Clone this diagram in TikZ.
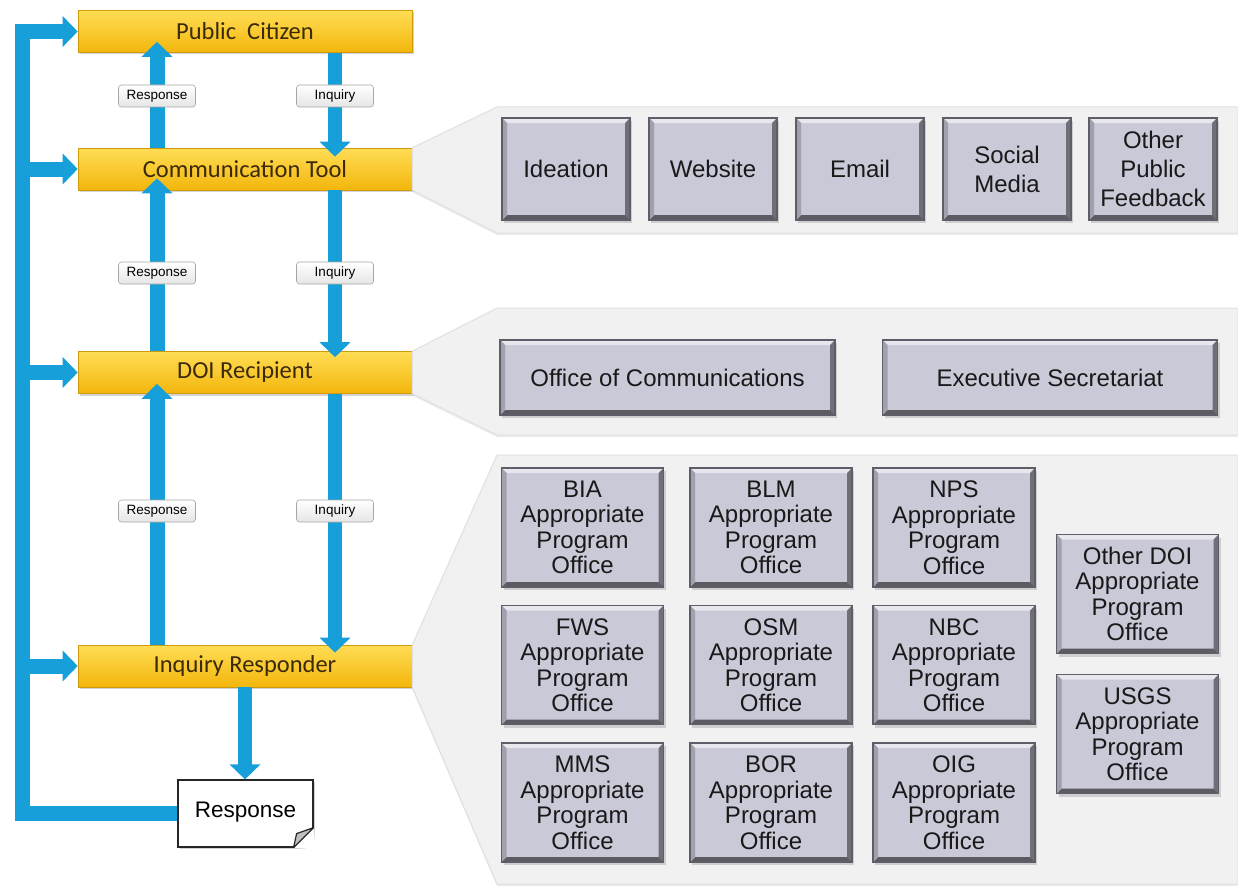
\documentclass[tikz,border=0pt]{standalone}
\usepackage{fontspec}
\setmainfont{Liberation Sans}
\newfontfamily\calibrifont{Carlito}
\usetikzlibrary{arrows.meta,calc,shadows}
\definecolor{flowblue}{HTML}{169FD9}
\definecolor{goldtop}{HTML}{FFDD55}
\definecolor{goldbot}{HTML}{F3B60C}
\definecolor{goldtext}{HTML}{3B2A0A}
\definecolor{boxfill}{HTML}{C9C9D8}
\definecolor{boxedge}{HTML}{5E5E68}
\definecolor{panelfill}{HTML}{F1F1F1}
\tikzset{
  stage/.style={minimum width=334pt, minimum height=42pt, inner sep=0pt,
    top color=goldtop, bottom color=goldbot, draw=goldbot!85!black, line width=0.6pt,
    drop shadow={opacity=0.35, shadow xshift=1.5pt, shadow yshift=-2pt},
    text=goldtext, font=\calibrifont\fontsize{24.5}{26}\selectfont},
  office/.style={inner sep=0pt, fill=boxfill, draw=boxedge, line width=1.2pt,
    drop shadow={opacity=0.3, shadow xshift=2pt, shadow yshift=-3pt},
    path picture={
      \coordinate (tl) at (path picture bounding box.north west);
      \coordinate (br) at (path picture bounding box.south east);
      \fill[white!55!boxfill] (tl) -- (tl -| br) -- ++(-5,5) -- ($(tl)+(5,5)$) -- cycle;
      \fill[boxfill!55!black] (tl -| br) -- (br) -- ++(-5,-5) -- ($(tl -| br)+(-5,5)$) -- cycle;
      \fill[boxfill!45!black] (br) -- (br -| tl) -- ++(5,-5) -- ($(br)+(-5,-5)$) -- cycle;
      \fill[boxfill!80!black] (br -| tl) -- (tl) -- ++(5,5) -- ($(br -| tl)+(5,-5)$) -- cycle;
    },
    align=center, text=black!90, font=\fontsize{24}{25.5}\selectfont},
  agency/.style={office, minimum width=162pt, minimum height=119pt},
  channel/.style={office, minimum width=128pt, minimum height=102pt,
    font=\fontsize{24}{29}\selectfont},
  unit/.style={office, minimum width=335pt, minimum height=75pt},
  panel/.style={fill=panelfill, draw=black!12, line width=1pt,
    drop shadow={opacity=0.15, shadow xshift=0pt, shadow yshift=-2pt}},
  tag/.style={inner sep=0pt, minimum width=77pt, minimum height=22pt, rounded corners=3pt,
    top color=white, bottom color=black!10, draw=black!35, line width=0.6pt,
    font=\fontsize{13.5}{15}\selectfont},
  flow/.style={draw=flowblue, line width=15pt,
    -{Triangle[width=30pt,length=15pt]}},
  doc/.style={inner sep=0pt, minimum width=135pt, minimum height=67pt,
    fill=white, draw=black!85, line width=1.2pt,
    drop shadow={opacity=0.35, shadow xshift=2pt, shadow yshift=-2pt},
    font=\fontsize{22.5}{24}\selectfont}
}
\begin{document}
\begin{tikzpicture}[x=1pt,y=-1pt,line join=miter]
\useasboundingbox (0,0) rectangle (1238,888);
% stages
\node[stage] (pc) at (245,31.5) {Public \ Citizen};
\node[stage] (ct) at (245,169) {Communication Tool};
\node[stage] (doi) at (245,372.5) {DOI Recipient};
\node[stage] (ir) at (245,666) {Inquiry Responder};
\node[doc] (resp) at (245.5,813.5) {\raisebox{8pt}{Response}};
\fill[white] ($(resp.south east)+(0,-20)$) -- ($(resp.south east)+(2,2)$) -- ($(resp.south east)+(-20,0)$) -- cycle;
\draw[black!85, line width=1.2pt, fill=black!25, line join=round] ($(resp.south east)+(0,-20)$) -- ($(resp.south east)+(-17,-14)$) -- ($(resp.south east)+(-20,0)$) -- cycle;
\coordinate (upx) at (157,0);
\coordinate (dnx) at (335,0);
\coordinate (bus) at (22,400);
% callouts
\draw[panel] (ct.north east) -- (497,107) -- (1238,107) -- (1238,233) -- (497,233) -- (ct.south east) -- cycle;
\draw[panel] (doi.north east) -- (497,308) -- (1238,308) -- (1238,435) -- (497,435) -- (doi.south east) -- cycle;
\draw[panel] (ir.north east) -- (497,455) -- (1238,455) -- (1238,884) -- (497,884) -- (ir.south east) -- cycle;
\node[channel] (idea) at (566,169) {Ideation};
\node[channel] (web) at (713,169) {Website};
\node[channel] (mail) at (860,169) {Email};
\node[channel] (social) at (1007,169) {Social\\Media};
\node[channel] (other) at (1153,169) {Other\\Public\\Feedback};
\node[unit] (ocom) at (667.5,377.5) {Office of Communications};
\node[unit] (exec) at (1050,377.5) {Executive Secretariat};
\node[agency] (bia) at (582.5,527.5) {BIA\\Appropriate\\Program\\Office};
\node[agency] (blm) at (771,527.5) {BLM\\Appropriate\\Program\\Office};
\node[agency] (nps) at (954,527.5) {NPS\\Appropriate\\Program\\Office};
\node[agency] (fws) at (582.5,665) {FWS\\Appropriate\\Program\\Office};
\node[agency] (osm) at (771,665) {OSM\\Appropriate\\Program\\Office};
\node[agency] (nbc) at (954,665) {NBC\\Appropriate\\Program\\Office};
\node[agency] (mms) at (582.5,802.5) {MMS\\Appropriate\\Program\\Office};
\node[agency] (bor) at (771,802.5) {BOR\\Appropriate\\Program\\Office};
\node[agency] (oig) at (954,802.5) {OIG\\Appropriate\\Program\\Office};
\node[agency] (odoi) at (1137.5,594) {Other DOI\\Appropriate\\Program\\Office};
\node[agency] (usgs) at (1137.5,734) {USGS\\Appropriate\\Program\\Office};
% flows
\draw[flow, shorten >=-11pt] (ct.north -| upx) -- (pc.south -| upx);
\draw[flow, shorten >=-12pt] (doi.north -| upx) -- (ct.south -| upx);
\draw[flow, shorten >=-10pt] (ir.north -| upx) -- (doi.south -| upx);
\draw[flow, line width=13.5pt, shorten >=-9pt] (pc.south -| dnx) -- (ct.north -| dnx);
\draw[flow, line width=13.5pt, shorten >=-6pt] (ct.south -| dnx) -- (doi.north -| dnx);
\draw[flow, line width=13.5pt, shorten >=-8pt] (doi.south -| dnx) -- (ir.north -| dnx);
\draw[flow, line width=14pt] (ir.south) -- (ir.south |- resp.north);
\draw[flow] (resp.west) -| (bus) |- (pc.west);
\draw[flow] (bus |- ct.west) -- (ct.west);
\draw[flow] (bus |- doi.west) -- (doi.west);
\draw[flow] (bus |- ir.west) -- (ir.west);
% labels
\node[tag] (r1) at (157,96) {Response};
\node[tag] (q1) at (335,96) {Inquiry};
\node[tag] (r2) at (157,273) {Response};
\node[tag] (q2) at (335,273) {Inquiry};
\node[tag] (r3) at (157,511) {Response};
\node[tag] (q3) at (335,511) {Inquiry};
\end{tikzpicture}
\end{document}
